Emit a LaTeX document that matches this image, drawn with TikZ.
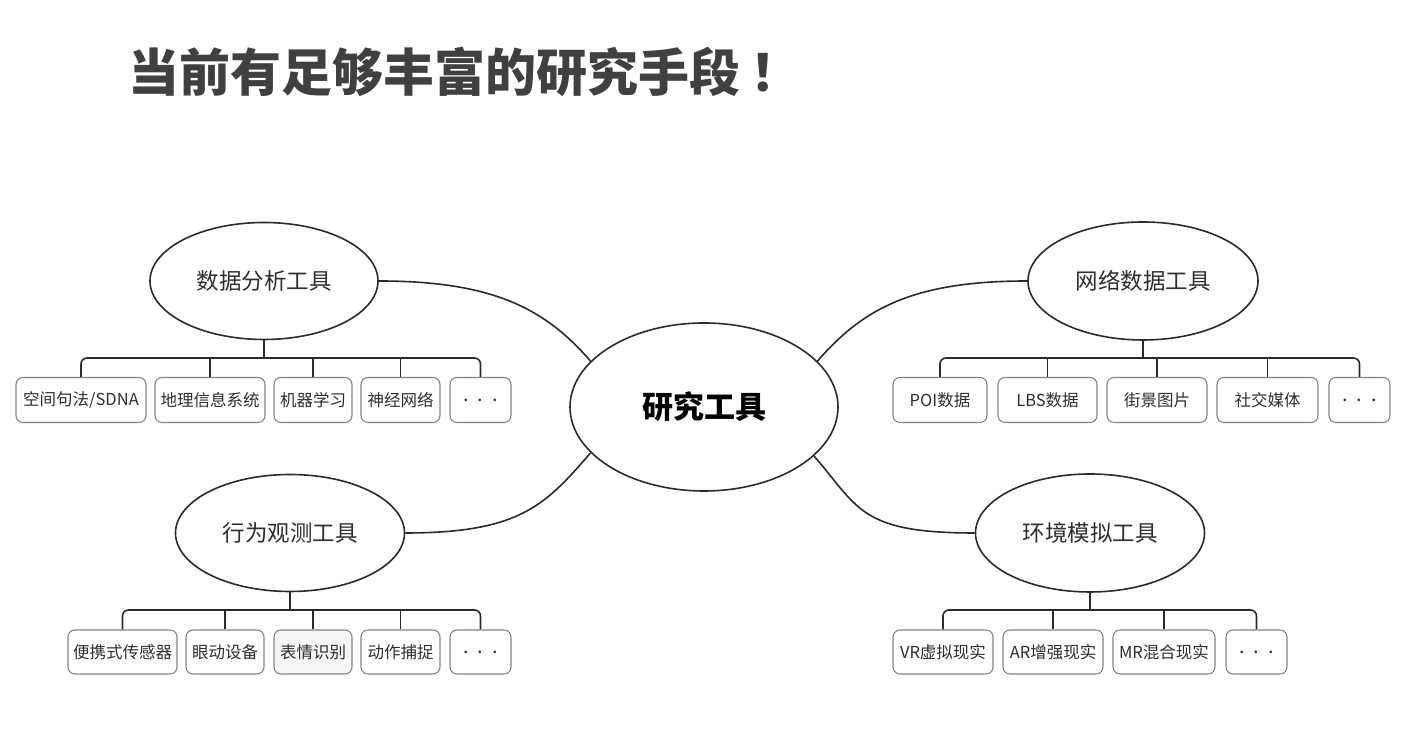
\documentclass[tikz,border=0pt]{standalone}
\usepackage{fontspec}
\setmainfont{Noto Sans CJK SC}
\usetikzlibrary{shapes.geometric}

\definecolor{linegray}{HTML}{2B2B2B}
\definecolor{boxgray}{HTML}{858585}
\definecolor{textgray}{HTML}{2E2E2E}
\definecolor{titlegray}{HTML}{404040}

\newcommand{\moredots}{{\fontsize{20}{22}\selectfont .\hspace{9pt}.\hspace{9pt}.}}

\tikzset{
  tool/.style={ellipse, draw=linegray, line width=1.6pt, inner sep=0pt, text=textgray, font=\fontsize{22.5}{26}\selectfont},
  item/.style={draw=boxgray, line width=1.1pt, rounded corners=7pt, inner sep=0pt, text=textgray, font=\fontsize{16.5}{19}\selectfont},
  branch/.style={draw=linegray, line width=1.6pt, rounded corners=6pt},
  link/.style={draw=linegray, line width=1.6pt},
}

\begin{document}
\begin{tikzpicture}[x=1pt,y=1pt]
\useasboundingbox[fill=white] (0,0) rectangle (1414,743);

\node[anchor=west, inner sep=0pt, text=titlegray, font=\fontsize{51}{58}\selectfont\bfseries] (title) at (128,671) {当前有足够丰富的研究手段\kern10pt ！};

% centre and the four tools
\node[tool, minimum width=268pt, minimum height=168pt, text=black, font=\fontsize{31}{36}\selectfont\bfseries] (root) at (704,336) {研究工具};
\node[tool, minimum width=228pt, minimum height=117pt] (data) at (264,462) {数据分析工具};
\node[tool, minimum width=230pt, minimum height=118pt] (net) at (1143,462) {网络数据工具};
\node[tool, minimum width=229pt, minimum height=117pt] (behav) at (290,210) {行为观测工具};
\node[tool, minimum width=229pt, minimum height=118pt] (env) at (1090,210) {环境模拟工具};

\draw[link] (data.east) .. controls +(115,0) and +(-45,52) .. (root.158);
\draw[link] (root.22) .. controls +(45,52) and +(-115,0) .. (net.west);
\draw[link] (root.202) .. controls +(-45,-52) and +(115,0) .. (behav.east);
\draw[link] (root.336) .. controls +(45,-52) and +(-115,0) .. (env.west);

% data analysis
\node[item, minimum height=45pt, minimum width=130pt] (data1) at (81,343) {空间句法/SDNA};
\node[item, minimum height=45pt, minimum width=110pt] (data2) at (210,343) {地理信息系统};
\node[item, minimum height=45pt, minimum width=78pt] (data3) at (313,343) {机器学习};
\node[item, minimum height=45pt, minimum width=79pt] (data4) at (400.5,343) {神经网络};
\node[item, minimum height=45pt, minimum width=61pt] (data5) at (480.5,343) {\moredots};
\coordinate (databar) at (264,385);
\draw[branch] (data1.north) -- (data1.north |- databar) -- (data5.north |- databar) -- (data5.north);
\foreach \n in {2,3,4} \draw[branch] (data\n.north) -- (data\n.north |- databar);
\draw[branch] (data.south) -- (databar);

% web data
\node[item, minimum height=45pt, minimum width=94pt] (net1) at (940,343) {POI数据};
\node[item, minimum height=45pt, minimum width=99pt] (net2) at (1047.5,343) {LBS数据};
\node[item, minimum height=45pt, minimum width=100pt] (net3) at (1157,343) {街景图片};
\node[item, minimum height=45pt, minimum width=101pt] (net4) at (1267.5,343) {社交媒体};
\node[item, minimum height=45pt, minimum width=61pt] (net5) at (1359.5,343) {\moredots};
\coordinate (netbar) at (1143,385);
\draw[branch] (net1.north) -- (net1.north |- netbar) -- (net5.north |- netbar) -- (net5.north);
\foreach \n in {2,3,4} \draw[branch] (net\n.north) -- (net\n.north |- netbar);
\draw[branch] (net.south) -- (netbar);

% behaviour observation
\node[item, minimum height=44pt, minimum width=109pt] (behav1) at (122.5,91) {便携式传感器};
\node[item, minimum height=44pt, minimum width=78pt] (behav2) at (225,91) {眼动设备};
\node[item, minimum height=44pt, minimum width=78pt, fill=black!4] (behav3) at (313,91) {表情识别};
\node[item, minimum height=44pt, minimum width=79pt] (behav4) at (400.5,91) {动作捕捉};
\node[item, minimum height=44pt, minimum width=61pt] (behav5) at (480.5,91) {\moredots};
\coordinate (behavbar) at (290,133);
\draw[branch] (behav1.north) -- (behav1.north |- behavbar) -- (behav5.north |- behavbar) -- (behav5.north);
\foreach \n in {2,3,4} \draw[branch] (behav\n.north) -- (behav\n.north |- behavbar);
\draw[branch] (behav.south) -- (behavbar);

% environment simulation
\node[item, minimum height=44pt, minimum width=100pt] (env1) at (943,91) {VR虚拟现实};
\node[item, minimum height=44pt, minimum width=100pt] (env2) at (1053,91) {AR增强现实};
\node[item, minimum height=44pt, minimum width=102pt] (env3) at (1164,91) {MR混合现实};
\node[item, minimum height=44pt, minimum width=61pt] (env4) at (1256.5,91) {\moredots};
\coordinate (envbar) at (1090,133);
\draw[branch] (env1.north) -- (env1.north |- envbar) -- (env4.north |- envbar) -- (env4.north);
\foreach \n in {2,3} \draw[branch] (env\n.north) -- (env\n.north |- envbar);
\draw[branch] (env.south) -- (envbar);
\end{tikzpicture}
\end{document}
